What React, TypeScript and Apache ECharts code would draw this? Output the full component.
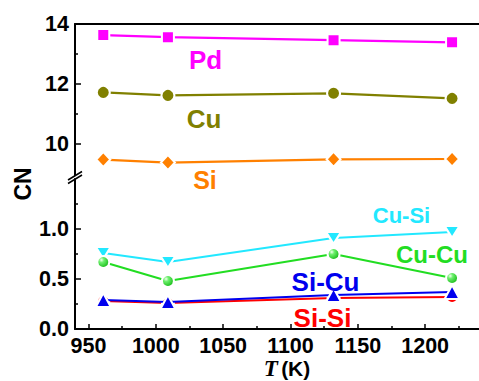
import React, { useEffect, useRef } from "react";
import * as echarts from "echarts";

// Temperatures (K)
const T = [961, 1009, 1132, 1220];
// Total coordination numbers (upper panel)
const pd = [13.63, 13.56, 13.46, 13.39];
const cu = [11.72, 11.62, 11.69, 11.52];
const si = [9.48, 9.38, 9.49, 9.5];
// Partial coordination numbers (lower panel)
const cuSi = [0.76, 0.67, 0.91, 0.97];
const cuCu = [0.67, 0.48, 0.75, 0.51];
const siCu = [0.29, 0.27, 0.34, 0.37];
const siSi = [0.28, 0.26, 0.31, 0.32];
// Ticks
const xMajor = [950, 1000, 1050, 1100, 1150, 1200];
const xMinor = [975, 1025, 1075, 1125, 1175, 1225];
const yTopMajor = [10, 12, 14];
const yTopMinor = [11, 13];
const yBotMajor = [0, 0.5, 1.0];
const yBotMinor = [0.25, 0.75, 1.25];

const FONT = "'Liberation Sans', Arial, sans-serif";

export default function App() {
  const ref = useRef<HTMLDivElement>(null);
  useEffect(() => {
    document.body.style.margin = "0";
    if (!ref.current) return;
    const chart = echarts.init(ref.current, null, { renderer: "svg" });
    const mk = (ys: number[]) => T.map((t, i) => [t, ys[i]]);
    const axisLine = { show: true, onZero: false, lineStyle: { color: "#000", width: 2 } };
    const xBase: any = { type: "value", min: 940, max: 1240, splitLine: { show: false } };
    const labelStyle = { fontSize: 21.5, fontWeight: "bold", color: "#000", fontFamily: FONT };

    const xAxis: any[] = [
      { ...xBase, gridIndex: 0, position: "bottom", show: false },
      { ...xBase, gridIndex: 0, position: "top", axisLine, axisTick: { show: false }, axisLabel: { show: false } },
      {
        ...xBase, gridIndex: 1, position: "bottom", axisLine,
        axisTick: { show: true, inside: true, length: 5, customValues: xMajor, lineStyle: { color: "#000", width: 1.5 } },
        axisLabel: { ...labelStyle, customValues: xMajor, margin: 6, formatter: (v: number) => String(v) },
      },
      {
        ...xBase, gridIndex: 1, position: "bottom", axisLine: { show: false },
        axisTick: { show: true, inside: true, length: 3, customValues: xMinor, lineStyle: { color: "#000", width: 1.5 } },
        axisLabel: { show: false },
      },
    ];
    const yAxis: any[] = [
      {
        type: "value", gridIndex: 0, position: "left", min: 9, max: 14, splitLine: { show: false }, axisLine,
        axisTick: { show: true, inside: true, length: 6, customValues: yTopMajor, lineStyle: { color: "#000", width: 1.5 } },
        axisLabel: { ...labelStyle, customValues: yTopMajor, margin: 6, formatter: (v: number) => String(v) },
      },
      {
        type: "value", gridIndex: 0, position: "left", min: 9, max: 14, splitLine: { show: false }, axisLine: { show: false },
        axisTick: { show: true, inside: true, length: 3, customValues: yTopMinor, lineStyle: { color: "#000", width: 1.5 } },
        axisLabel: { show: false },
      },
      {
        type: "value", gridIndex: 1, position: "left", min: 0, max: 1.5, splitLine: { show: false }, axisLine,
        axisTick: { show: true, inside: true, length: 6, customValues: yBotMajor, lineStyle: { color: "#000", width: 1.5 } },
        axisLabel: { ...labelStyle, customValues: yBotMajor, margin: 6, formatter: (v: number) => v.toFixed(1) },
      },
      {
        type: "value", gridIndex: 1, position: "left", min: 0, max: 1.5, splitLine: { show: false }, axisLine: { show: false },
        axisTick: { show: true, inside: true, length: 3, customValues: yBotMinor, lineStyle: { color: "#000", width: 1.5 } },
        axisLabel: { show: false },
      },
    ];

    const line = (name: string, data: number[], color: string, symbol: string, size: any, top: boolean, extra: any = {}) => ({
      type: "line",
      name,
      xAxisIndex: top ? 0 : 2,
      yAxisIndex: top ? 0 : 2,
      data: mk(data),
      symbol,
      symbolSize: size,
      showAllSymbol: true,
      lineStyle: { color, width: 2.2 },
      itemStyle: { color, borderColor: "#fff", borderWidth: 2, ...(extra.itemStyle || {}) },
      symbolRotate: extra.symbolRotate || 0,
      z: extra.z || 2,
      emphasis: { disabled: true },
    });

    const ballFill = {
      type: "radial", x: 0.35, y: 0.33, r: 0.7,
      colorStops: [
        { offset: 0, color: "#f4fff0" },
        { offset: 0.3, color: "#6ef06e" },
        { offset: 1, color: "#12b812" },
      ],
    };

    const txt = (text: string, x: number, y: number, color: string, size: number) => ({
      type: "text", x, y, z: 10,
      style: { text, fill: color, fontSize: size, fontWeight: "bold", fontFamily: FONT, align: "center", verticalAlign: "middle" },
    });

    chart.setOption({
      animation: false,
      grid: [
        { left: 75, top: 24, width: 410, height: 150 },
        { left: 75, top: 179, width: 410, height: 150 },
      ],
      xAxis,
      yAxis,
      series: [
        line("Pd", pd, "#FF00FF", "rect", 12, true),
        line("Cu", cu, "#808000", "circle", 13, true),
        line("Si", si, "#FF8000", "diamond", [14, 15], true),
        line("Cu-Si", cuSi, "#22E8FF", "triangle", [15, 12], false, { symbolRotate: 180 }),
        line("Cu-Cu", cuCu, "#22DD22", "circle", 12, false, { itemStyle: { color: ballFill } }),
        line("Si-Si", siSi, "#FF0000", "circle", 12, false),
        line("Si-Cu", siCu, "#0000EE", "triangle", [15, 14], false, { z: 3 }),
      ],
      graphic: [
        { type: "line", shape: { x1: 75, y1: 173, x2: 75, y2: 180 }, style: { stroke: "#000", lineWidth: 2 } },
        { type: "polygon", shape: { points: [[69, 180], [81, 172.5], [81, 176], [69, 183.5]] }, style: { fill: "#fff" } },
        { type: "line", shape: { x1: 68, y1: 180, x2: 82, y2: 171.5 }, style: { stroke: "#000", lineWidth: 1.5 } },
        { type: "line", shape: { x1: 68, y1: 183.5, x2: 82, y2: 175 }, style: { stroke: "#000", lineWidth: 1.5 } },
        txt("Pd", 205.5, 60, "#FF00FF", 26),
        txt("Cu", 204, 119, "#808000", 26),
        txt("Si", 205, 180, "#FF8000", 25),
        txt("Cu-Si", 401.5, 215, "#22E8FF", 22),
        txt("Cu-Cu", 432, 254, "#22DD22", 24),
        txt("Si-Cu", 325.5, 282, "#0000EE", 26),
        txt("Si-Si", 322.5, 318, "#FF0000", 26),
        {
          type: "text", x: 22.5, y: 184, rotation: Math.PI / 2, z: 10,
          style: { text: "CN", fill: "#000", fontSize: 23, fontWeight: "bold", fontFamily: FONT, align: "center", verticalAlign: "middle" },
        },
        {
          type: "text", x: 287, y: 368, z: 10,
          style: {
            text: "{t|T} {k|(K)}",
            align: "center",
            verticalAlign: "middle",
            rich: {
              t: { fontFamily: "'Liberation Serif', 'Times New Roman', serif", fontStyle: "italic", fontWeight: "bold", fontSize: 23, fill: "#000" },
              k: { fontFamily: FONT, fontWeight: "bold", fontSize: 21, fill: "#000" },
            },
          },
        },
      ],
    });
    return () => chart.dispose();
  }, []);
  return <div ref={ref} style={{ width: 479, height: 381 }} />;
}
